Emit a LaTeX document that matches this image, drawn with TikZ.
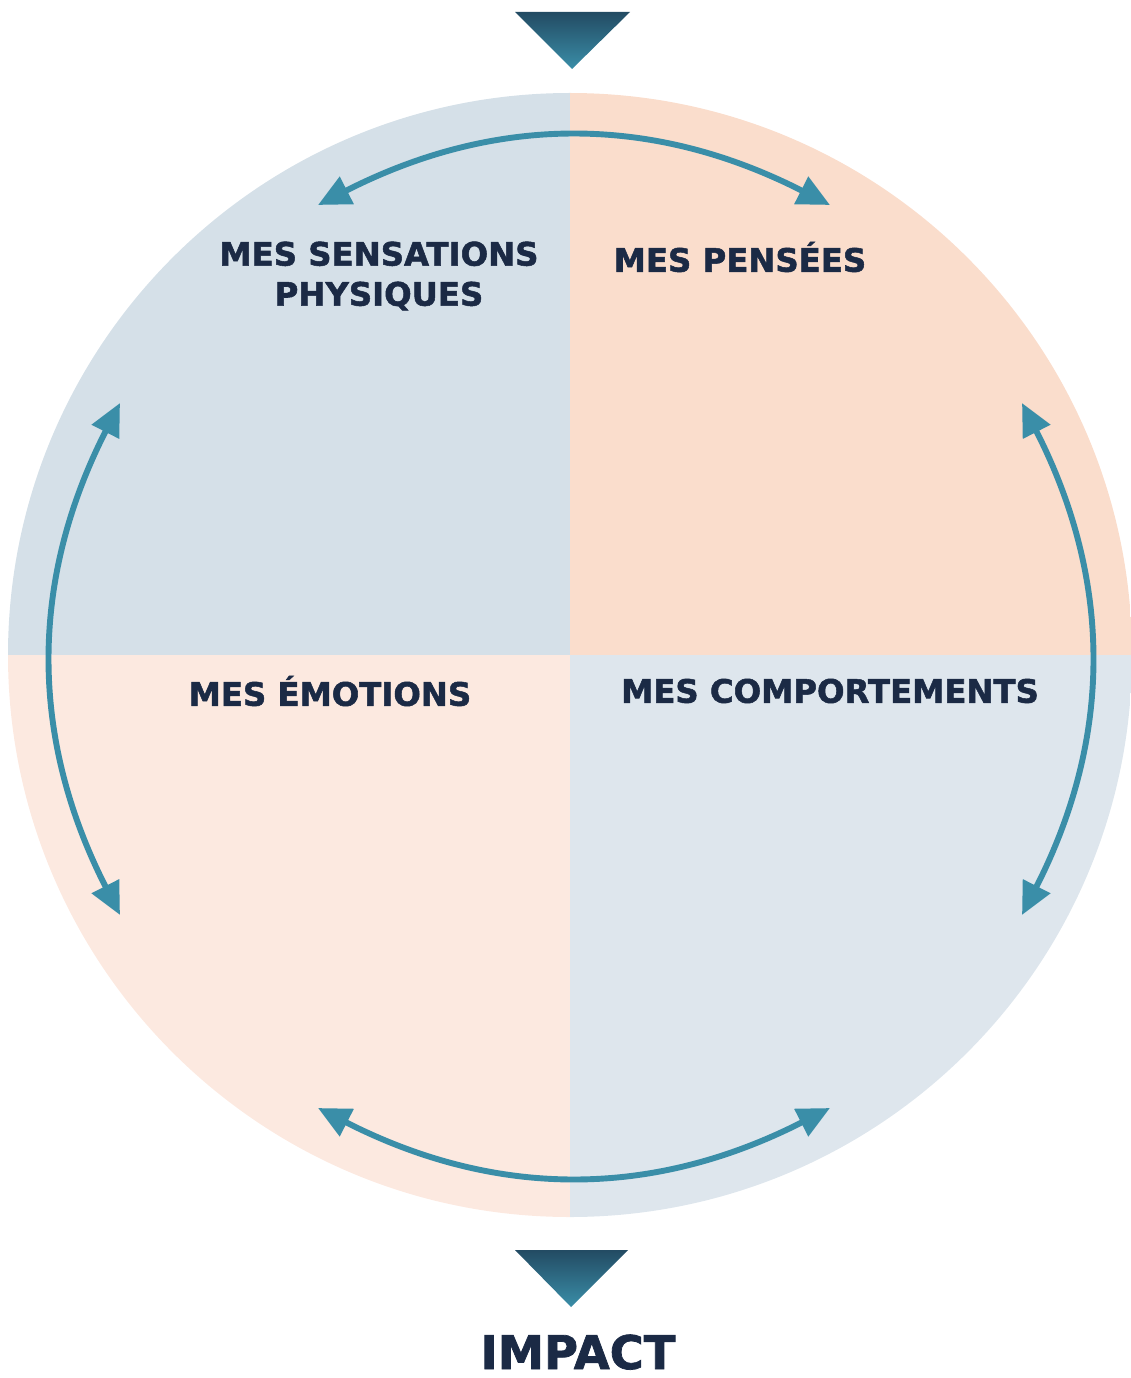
\documentclass[tikz,border=0pt]{standalone}
\usepackage{fontspec}
\setmainfont{DejaVu Sans}[BoldFeatures={FakeBold=1.6}]
\usetikzlibrary{arrows.meta}
\definecolor{qblue}{HTML}{D5E0E8}
\definecolor{qbluelt}{HTML}{DEE6ED}
\definecolor{qpeach}{HTML}{FADDCC}
\definecolor{qpeachlt}{HTML}{FCE9E0}
\definecolor{teal}{HTML}{3A8EA8}
\definecolor{tealdark}{HTML}{234B63}
\definecolor{navy}{HTML}{1B2A45}

\begin{document}
\begin{tikzpicture}[x=0.025cm,y=-0.025cm] % one unit = one pixel of the reference
\tikzstyle{quad}=[font=\bfseries\fontsize{23}{28.5}\selectfont,text=navy,align=center,inner sep=0pt]
\tikzstyle{loop}=[line width=4.2pt,draw=teal,{Triangle[length=23pt,width=21pt]}-{Triangle[length=23pt,width=21pt]}]
\tikzstyle{drop}=[top color=tealdark,bottom color=teal,draw=none]

\useasboundingbox (0,0) rectangle (1130,1378); % page

% quarters of the circle
\begin{scope}
\clip (570,655) circle (562);
\fill[qblue] (0,0) rectangle (570,655); % top left
\fill[qpeach] (570,0) rectangle (1140,655); % top right
\fill[qpeachlt] (0,655) rectangle (570,1300); % bottom left
\fill[qbluelt] (570,655) rectangle (1140,1300); % bottom right
\end{scope}

% triangles in and out
\shade[drop] (515,12) -- (630,12) -- (572,69) -- cycle; % top
\shade[drop] (515,1250) -- (628,1250) -- (571,1307) -- cycle; % bottom

% labels
\node[quad] (sens) at (379,276) {MES SENSATIONS\\PHYSIQUES}; % top left
\node[quad] (pens) at (740,257) {MES PENSÉES}; % top right
\node[quad] (emo) at (330,691) {MES ÉMOTIONS}; % bottom left
\node[quad] (comp) at (830,691) {MES COMPORTEMENTS}; % bottom right
\node[font=\bfseries\fontsize{33}{40}\selectfont,text=navy,inner sep=0pt,anchor=base] (impact) at (578,1369) {IMPACT}; % IMPACT

% ends of the arcs
\coordinate (tl) at (318,205);
\coordinate (tr) at (830,205);
\coordinate (ul) at (120,403);
\coordinate (dl) at (120,915);
\coordinate (ur) at (1022,403);
\coordinate (dr) at (1022,915);
\coordinate (bl) at (318,1108);
\coordinate (br) at (830,1108);

\draw[loop] (tl) to[bend left=27] (tr); % top arc
\draw[loop] (ul) to[bend right=27] (dl); % left arc
\draw[loop] (ur) to[bend left=27] (dr); % right arc
\draw[loop] (bl) to[bend right=27] (br); % bottom arc
\end{tikzpicture}
\end{document}
